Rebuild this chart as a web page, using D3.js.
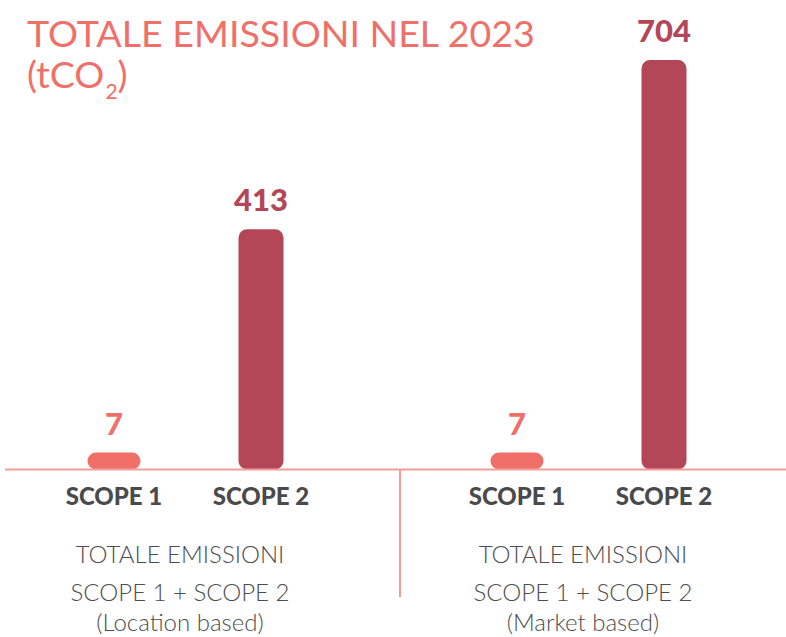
<!DOCTYPE html>
<html><head><meta charset="utf-8">
<script src="https://cdn.jsdelivr.net/npm/d3@7/dist/d3.min.js"></script>
<style>html,body{margin:0;padding:0;background:#fff;}svg{display:block;}</style>
</head><body>
<svg id="chart" width="786" height="637"></svg>
<script>
// ---- data ----
const groups = ["Location based", "Market based"];
const scopes = ["SCOPE 1", "SCOPE 2"];
const locationValues = [7, 413];
const marketValues = [7, 704];
const groupLines = ["TOTALE EMISSIONI", "SCOPE 1 + SCOPE 2"];
const titleText = "TOTALE EMISSIONI NEL 2023";

const data = [];
groups.forEach((g, gi) => {
  const vals = gi === 0 ? locationValues : marketValues;
  scopes.forEach((s, si) => data.push({group: g, scope: s, value: vals[si]}));
});

const svg = d3.select("#chart");
const W = 786, H = 637;
const baseY = 469.5;
const colors = {"SCOPE 1": "#f06f68", "SCOPE 2": "#b34758"};
const barW = {"SCOPE 1": 53, "SCOPE 2": 45};
const minH = 17;

const xG = d3.scalePoint().domain(groups).range([186, 589]);
const xS = d3.scalePoint().domain(scopes).range([-72, 75]);
const y = d3.scaleLinear().domain([0, 704]).range([baseY, 60]);

// title
const title = svg.append("text")
  .attr("x", 27).attr("y", 47)
  .attr("font-family", "Lato, 'Open Sans', sans-serif")
  .attr("font-size", 33).attr("fill", "#f06f68")
  .text(titleText);
const tl = title.node().getComputedTextLength();
const tfs = 33 * 508 / tl;
title.attr("font-size", tfs);

const t2 = svg.append("text")
  .attr("x", 27).attr("y", 88)
  .attr("font-family", "Lato, 'Open Sans', sans-serif")
  .attr("font-size", tfs).attr("fill", "#f06f68");
t2.append("tspan").text("(tCO");
t2.append("tspan").attr("font-size", 21).attr("dy", 11).attr("dx", 1).text("2");
t2.append("tspan").attr("dy", -11).text(")");

// bars
svg.append("g").selectAll("rect").data(data).join("rect")
  .attr("x", d => xG(d.group) + xS(d.scope) - barW[d.scope] / 2)
  .attr("width", d => barW[d.scope])
  .attr("y", d => Math.min(y(d.value), baseY - minH))
  .attr("height", d => baseY - Math.min(y(d.value), baseY - minH))
  .attr("rx", 8.5).attr("ry", 8.5)
  .attr("fill", d => colors[d.scope]);

// value labels
svg.append("g").selectAll("text").data(data).join("text")
  .attr("x", d => xG(d.group) + xS(d.scope))
  .attr("y", d => Math.min(y(d.value), baseY - minH) - 18)
  .attr("text-anchor", "middle")
  .attr("font-family", "Lato, 'DejaVu Sans', sans-serif")
  .attr("font-weight", 900).attr("font-size", 31)
  .attr("fill", d => colors[d.scope])
  .text(d => d.value);

// baseline and divider
svg.append("line").attr("x1", 5).attr("x2", W).attr("y1", baseY).attr("y2", baseY)
  .attr("stroke", "#f49d98").attr("stroke-width", 2);
svg.append("line").attr("x1", 400).attr("x2", 400).attr("y1", baseY).attr("y2", 597)
  .attr("stroke", "#f49d98").attr("stroke-width", 2);

// category labels
svg.append("g").selectAll("text").data(data).join("text")
  .attr("x", d => xG(d.group) + xS(d.scope))
  .attr("y", 505)
  .attr("text-anchor", "middle")
  .attr("font-family", "Lato, 'Open Sans', sans-serif")
  .attr("font-weight", 900).attr("font-size", 24)
  .attr("fill", "#4a4a4c")
  .text(d => d.scope);

// group labels
const gl = svg.append("g").selectAll("text").data(groups).join("text")
  .attr("text-anchor", "middle")
  .attr("font-family", "Lato, 'Open Sans', sans-serif")
  .attr("font-weight", 300).attr("font-size", 24)
  .attr("fill", "#4d4d4f");
const lineYs = [563, 601, 631];
gl.each(function(g) {
  const sel = d3.select(this);
  const cx = xG(g) - 6;
  [...groupLines, "(" + g + ")"].forEach((t, i) => {
    sel.append("tspan").attr("x", cx).attr("y", lineYs[i]).text(t);
  });
});
</script>
</body></html>
